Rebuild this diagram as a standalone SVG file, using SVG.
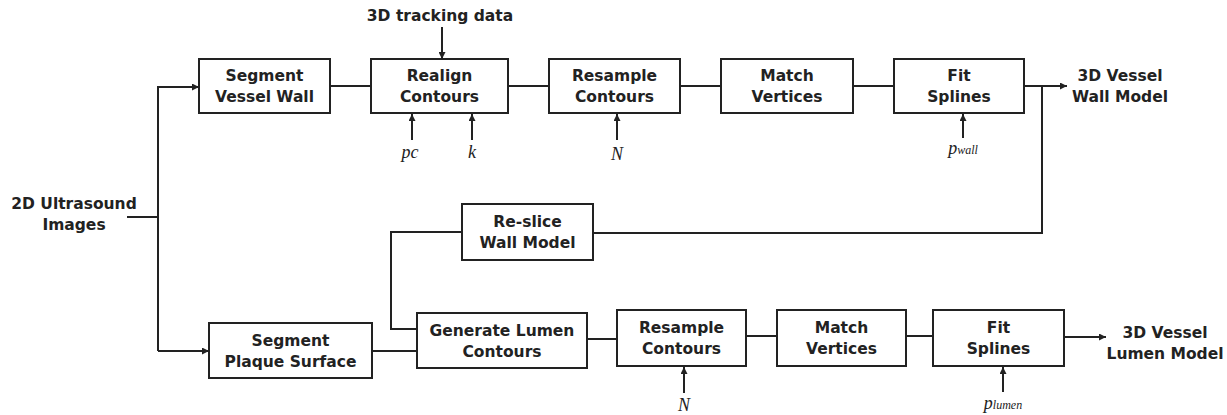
<svg xmlns="http://www.w3.org/2000/svg" width="1227" height="415" viewBox="0 0 1227 415">
<style>
.box{fill:#fff;stroke:#222;stroke-width:2}
.t{font-family:"DejaVu Sans",Verdana,sans-serif;font-weight:bold;font-size:15.5px;fill:#222;text-anchor:middle}
.m{font-family:"Liberation Serif","Times New Roman",serif;font-style:italic;font-size:18px;fill:#222;text-anchor:middle}
.c{fill:none;stroke:#222;stroke-width:2}
</style>
<defs>
<marker id="ah" viewBox="0 0 10 10" refX="10" refY="5" markerWidth="9" markerHeight="7" markerUnits="userSpaceOnUse" orient="auto">
<path d="M0,0 L10,5 L0,10 Z" fill="#222"/>
</marker>
</defs>
<g id="connectors">
<path class="c" d="M127,217 H158"/>
<path class="c" d="M158,351 V87 H199" marker-end="url(#ah)"/>
<path class="c" d="M158,351 H209" marker-end="url(#ah)"/>
<path class="c" d="M330,86 H371"/>
<path class="c" d="M508,86 H549"/>
<path class="c" d="M680,86 H721"/>
<path class="c" d="M853,86 H894"/>
<path class="c" d="M1024,86 H1067" marker-end="url(#ah)"/>
<path class="c" d="M1042,86 V233 H593"/>
<path class="c" d="M462,232 H391 V329 H417"/>
<path class="c" d="M372,351 H417"/>
<path class="c" d="M587,339 H617"/>
<path class="c" d="M746,336 H777"/>
<path class="c" d="M906,336 H933"/>
<path class="c" d="M1064,337 H1106" marker-end="url(#ah)"/>
<path class="c" d="M442,27 V59" marker-end="url(#ah)"/>
<path class="c" d="M412,140 V114" marker-end="url(#ah)"/>
<path class="c" d="M472,140 V114" marker-end="url(#ah)"/>
<path class="c" d="M617,140 V114" marker-end="url(#ah)"/>
<path class="c" d="M963,138 V114" marker-end="url(#ah)"/>
<path class="c" d="M684,393 V367" marker-end="url(#ah)"/>
<path class="c" d="M1003,392 V367" marker-end="url(#ah)"/>
</g>
<g id="input"><text class="t" x="74" y="209">2D Ultrasound</text><text class="t" x="74" y="230">Images</text></g>
<g id="tracking"><text class="t" x="440" y="21">3D tracking data</text></g>
<g id="segwall"><rect class="box" x="199" y="59" width="131" height="54"/><text class="t" x="264.5" y="81">Segment</text><text class="t" x="264.5" y="102">Vessel Wall</text></g>
<g id="realign"><rect class="box" x="371" y="59" width="137" height="54"/><text class="t" x="439.5" y="81">Realign</text><text class="t" x="439.5" y="102">Contours</text></g>
<g id="resample1"><rect class="box" x="549" y="59" width="131" height="54"/><text class="t" x="614.5" y="81">Resample</text><text class="t" x="614.5" y="102">Contours</text></g>
<g id="match1"><rect class="box" x="721" y="59" width="132" height="54"/><text class="t" x="787" y="81">Match</text><text class="t" x="787" y="102">Vertices</text></g>
<g id="fit1"><rect class="box" x="894" y="59" width="130" height="54"/><text class="t" x="959" y="81">Fit</text><text class="t" x="959" y="102">Splines</text></g>
<g id="wallmodel"><text class="t" x="1120" y="81">3D Vessel</text><text class="t" x="1120" y="102">Wall Model</text></g>
<g id="reslice"><rect class="box" x="462" y="204" width="131" height="56"/><text class="t" x="527.5" y="227">Re-slice</text><text class="t" x="527.5" y="248">Wall Model</text></g>
<g id="segplaque"><rect class="box" x="209" y="323" width="163" height="55"/><text class="t" x="290.5" y="346">Segment</text><text class="t" x="290.5" y="367">Plaque Surface</text></g>
<g id="genlumen"><rect class="box" x="417" y="313" width="170" height="55"/><text class="t" x="502" y="336">Generate Lumen</text><text class="t" x="502" y="357">Contours</text></g>
<g id="resample2"><rect class="box" x="617" y="310" width="129" height="56"/><text class="t" x="681.5" y="333">Resample</text><text class="t" x="681.5" y="354">Contours</text></g>
<g id="match2"><rect class="box" x="777" y="310" width="129" height="56"/><text class="t" x="841.5" y="333">Match</text><text class="t" x="841.5" y="354">Vertices</text></g>
<g id="fit2"><rect class="box" x="933" y="310" width="131" height="56"/><text class="t" x="998.5" y="333">Fit</text><text class="t" x="998.5" y="354">Splines</text></g>
<g id="lumenmodel"><text class="t" x="1165" y="338">3D Vessel</text><text class="t" x="1165" y="359">Lumen Model</text></g>
<g id="params">
<text class="m" x="410" y="158">pc</text>
<text class="m" x="472" y="158">k</text>
<text class="m" x="617" y="160">N</text>
<text class="m" x="963" y="154">p<tspan font-size="12">wall</tspan></text>
<text class="m" x="684" y="411">N</text>
<text class="m" x="1003" y="409">p<tspan font-size="12">lumen</tspan></text>
</g>
</svg>
